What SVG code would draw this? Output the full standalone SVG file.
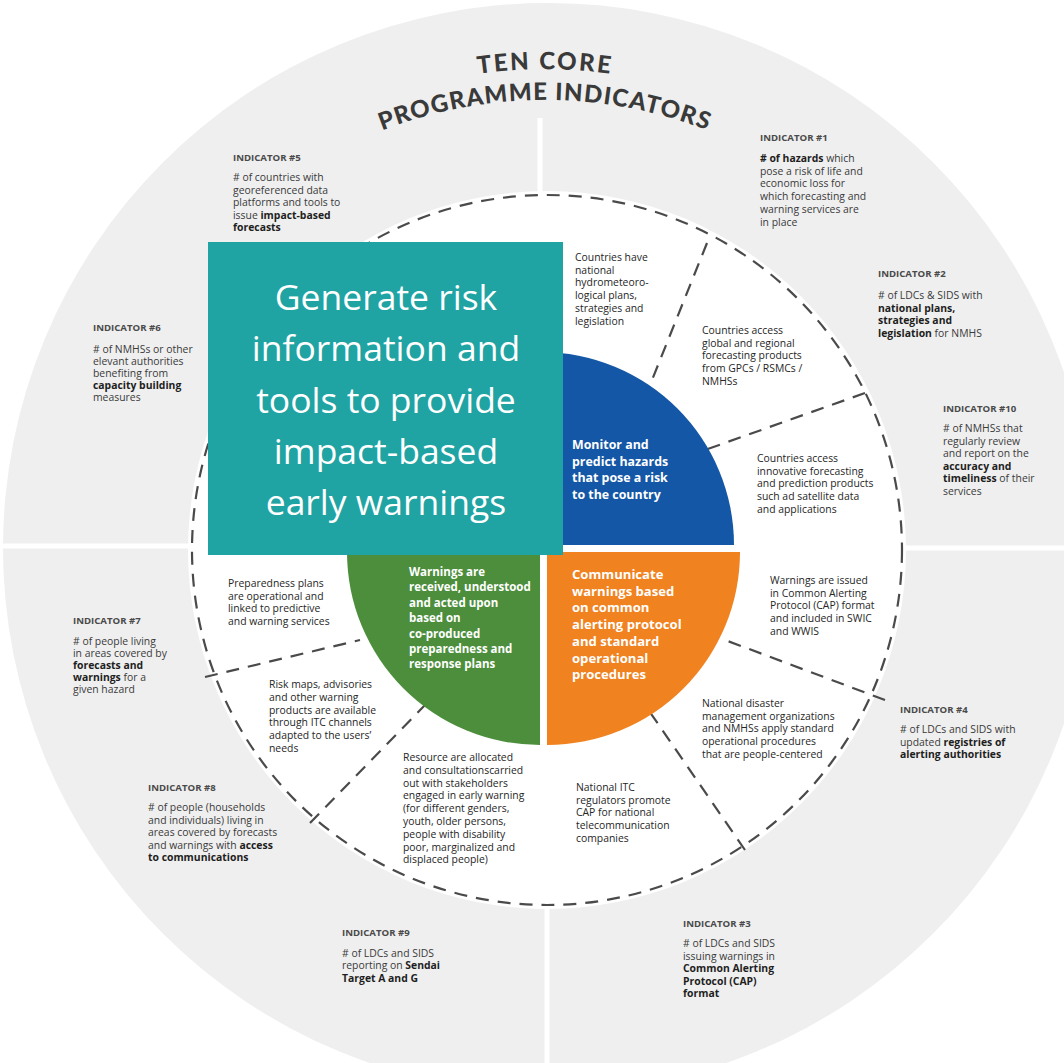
<svg xmlns="http://www.w3.org/2000/svg" width="1064" height="1063" viewBox="0 0 1064 1063">
<defs>
<style>
.t{font-family:"Open Sans","Noto Sans","Liberation Sans",sans-serif;}
.sm{font-size:10.4px;fill:#3a3a3a;}
.rg{font-size:10.4px;fill:#262626;}
.hd{font-size:9.6px;font-weight:700;fill:#4a4a4a;}
.b{font-weight:700;fill:#1e1e1e;}
.wh{fill:#ffffff;font-weight:700;}
.dash{fill:none;stroke:#4a4a4a;stroke-width:2.2;stroke-dasharray:13 9;}
.sep{stroke:#ffffff;stroke-width:5;}
.title{font-family:Lato,"Open Sans",sans-serif;font-weight:900;font-size:24px;fill:#3a3a3a;}
</style>
<path id="arcTen" d="M128,309.5 A482,482 0 0 1 962,309.5"/>
<path id="arcProg" d="M155,324.5 A451,451 0 0 1 935,324.5"/>
</defs>
<rect width="1064" height="1063" fill="#ffffff"/>
<g id="background">
<circle cx="548" cy="548" r="545" fill="#efefef"/>
<line class="sep" x1="540" y1="118" x2="540" y2="200"/>
<line class="sep" x1="547" y1="900" x2="547" y2="1063"/>
<line class="sep" x1="0" y1="546" x2="195" y2="546"/>
<line class="sep" x1="900" y1="548" x2="1064" y2="548"/>
<circle cx="547" cy="550" r="359" fill="#ffffff"/>
</g>
<g id="title">
<text class="title" letter-spacing="2.2"><textPath href="#arcTen" startOffset="50%" text-anchor="middle">TEN CORE</textPath></text>
<text class="title" letter-spacing="1.2"><textPath href="#arcProg" startOffset="50%" text-anchor="middle">PROGRAMME INDICATORS</textPath></text>
</g>
<g id="connectors">
<circle class="dash" cx="547" cy="550" r="355"/>
<line class="dash" x1="707" y1="243" x2="650" y2="385"/>
<line class="dash" x1="865" y1="393" x2="705" y2="450"/>
<line class="dash" x1="885" y1="700" x2="725" y2="640"/>
<line class="dash" x1="745" y1="850" x2="645" y2="705"/>
<line class="dash" x1="310" y1="823" x2="425" y2="705"/>
<line class="dash" x1="205" y1="677" x2="360" y2="640"/>
</g>
<g id="core-blue">
<path d="M541,545 L541,352 A193,193 0 0 1 734,545 Z" fill="#1457a6"/>
<text class="t wh" font-size="12.4" x="572" y="449">Monitor and<tspan x="572" dy="16.7">predict hazards</tspan><tspan x="572" dy="16.7">that pose a risk</tspan><tspan x="572" dy="16.7">to the country</tspan></text>
</g>
<g id="core-orange">
<path d="M547,552 L740,552 A193,193 0 0 1 547,745 Z" fill="#f0821f"/>
<text class="t wh" font-size="13.1" x="572" y="579">Communicate<tspan x="572" dy="16.7">warnings based</tspan><tspan x="572" dy="16.7">on common</tspan><tspan x="572" dy="16.7">alerting protocol</tspan><tspan x="572" dy="16.7">and standard</tspan><tspan x="572" dy="16.7">operational</tspan><tspan x="572" dy="16.7">procedures</tspan></text>
</g>
<g id="core-green">
<path d="M540,552 L540,745 A193,193 0 0 1 347,552 Z" fill="#4c8e3c"/>
<text class="t wh" font-size="11.5" x="409" y="576">Warnings are<tspan x="409" dy="15.4">received, understood</tspan><tspan x="409" dy="15.4">and acted upon</tspan><tspan x="409" dy="15.4">based on</tspan><tspan x="409" dy="15.4">co-produced</tspan><tspan x="409" dy="15.4">preparedness and</tspan><tspan x="409" dy="15.4">response plans</tspan></text>
</g>
<g id="sector-national-plans">
<text class="t rg" x="575" y="261">Countries have<tspan x="575" dy="12.7">national</tspan><tspan x="575" dy="12.7">hydrometeoro-</tspan><tspan x="575" dy="12.7">logical plans,</tspan><tspan x="575" dy="12.7">strategies and</tspan><tspan x="575" dy="12.7">legislation</tspan></text>
</g>
<g id="sector-global-products">
<text class="t rg" x="702" y="334">Countries access<tspan x="702" dy="12.7">global and regional</tspan><tspan x="702" dy="12.7">forecasting products</tspan><tspan x="702" dy="12.7">from GPCs / RSMCs /</tspan><tspan x="702" dy="12.7">NMHSs</tspan></text>
</g>
<g id="sector-innovative">
<text class="t rg" x="757" y="462">Countries access<tspan x="757" dy="12.7">innovative forecasting</tspan><tspan x="757" dy="12.7">and prediction products</tspan><tspan x="757" dy="12.7">such ad satellite data</tspan><tspan x="757" dy="12.7">and applications</tspan></text>
</g>
<g id="sector-cap-issued">
<text class="t rg" x="770" y="584">Warnings are issued<tspan x="770" dy="12.7">in Common Alerting</tspan><tspan x="770" dy="12.7">Protocol (CAP) format</tspan><tspan x="770" dy="12.7">and included in SWIC</tspan><tspan x="770" dy="12.7">and WWIS</tspan></text>
</g>
<g id="sector-sop">
<text class="t rg" x="702" y="707">National disaster<tspan x="702" dy="12.7">management organizations</tspan><tspan x="702" dy="12.7">and NMHSs apply standard</tspan><tspan x="702" dy="12.7">operational procedures</tspan><tspan x="702" dy="12.7">that are people-centered</tspan></text>
</g>
<g id="sector-itc">
<text class="t rg" x="576" y="791">National ITC<tspan x="576" dy="12.7">regulators promote</tspan><tspan x="576" dy="12.7">CAP for national</tspan><tspan x="576" dy="12.7">telecommunication</tspan><tspan x="576" dy="12.7">companies</tspan></text>
</g>
<g id="sector-resources">
<text class="t rg" x="403" y="761">Resource are allocated<tspan x="403" dy="12.8">and consultationscarried</tspan><tspan x="403" dy="12.8">out with stakeholders</tspan><tspan x="403" dy="12.8">engaged in early warning</tspan><tspan x="403" dy="12.8">(for different genders,</tspan><tspan x="403" dy="12.8">youth, older persons,</tspan><tspan x="403" dy="12.8">people with disability</tspan><tspan x="403" dy="12.8">poor, marginalized and</tspan><tspan x="403" dy="12.8">displaced people)</tspan></text>
</g>
<g id="sector-risk-maps">
<text class="t rg" x="269" y="688">Risk maps, advisories<tspan x="269" dy="12.8">and other warning</tspan><tspan x="269" dy="12.8">products are available</tspan><tspan x="269" dy="12.8">through ITC channels</tspan><tspan x="269" dy="12.8">adapted to the users’</tspan><tspan x="269" dy="12.8">needs</tspan></text>
</g>
<g id="sector-preparedness">
<text class="t rg" x="228" y="587">Preparedness plans<tspan x="228" dy="12.7">are operational and</tspan><tspan x="228" dy="12.7">linked to predictive</tspan><tspan x="228" dy="12.7">and warning services</tspan></text>
</g>
<g id="indicator-1">
<text class="t hd" x="760" y="141">INDICATOR #1</text>
<text class="t sm" x="760" y="162"><tspan class="b"># of hazards</tspan> which<tspan x="760" dy="12.7">pose a risk of life and</tspan><tspan x="760" dy="12.7">economic loss for</tspan><tspan x="760" dy="12.7">which forecasting and</tspan><tspan x="760" dy="12.7">warning services are</tspan><tspan x="760" dy="12.7">in place</tspan></text>
</g>
<g id="indicator-2">
<text class="t hd" x="878" y="277">INDICATOR #2</text>
<text class="t sm" x="878" y="299"># of LDCs &amp; SIDS with<tspan x="878" dy="12.7" class="b">national plans,</tspan><tspan x="878" dy="12.7" class="b">strategies and</tspan><tspan x="878" dy="12.7"><tspan class="b">legislation</tspan> for NMHS</tspan></text>
</g>
<g id="indicator-10">
<text class="t hd" x="943" y="412">INDICATOR #10</text>
<text class="t sm" x="943" y="432"># of NMHSs that<tspan x="943" dy="12.5">regularly review</tspan><tspan x="943" dy="12.5">and report on the</tspan><tspan x="943" dy="12.5" class="b">accuracy and</tspan><tspan x="943" dy="12.5"><tspan class="b">timeliness</tspan> of their</tspan><tspan x="943" dy="12.5">services</tspan></text>
</g>
<g id="indicator-4">
<text class="t hd" x="900" y="713">INDICATOR #4</text>
<text class="t sm" x="900" y="733"># of LDCs and SIDS with<tspan x="900" dy="12.6">updated <tspan class="b">registries of</tspan></tspan><tspan x="900" dy="12.6" class="b">alerting authorities</tspan></text>
</g>
<g id="indicator-3">
<text class="t hd" x="683" y="927">INDICATOR #3</text>
<text class="t sm" x="683" y="947"># of LDCs and SIDS<tspan x="683" dy="12.6">issuing warnings in</tspan><tspan x="683" dy="12.6" class="b">Common Alerting</tspan><tspan x="683" dy="12.6" class="b">Protocol (CAP)</tspan><tspan x="683" dy="12.6" class="b">format</tspan></text>
</g>
<g id="indicator-9">
<text class="t hd" x="342" y="936">INDICATOR #9</text>
<text class="t sm" x="342" y="957"># of LDCs and SIDS<tspan x="342" dy="12.3">reporting on <tspan class="b">Sendai</tspan></tspan><tspan x="342" dy="12.3" class="b">Target A and G</tspan></text>
</g>
<g id="indicator-8">
<text class="t hd" x="148" y="791">INDICATOR #8</text>
<text class="t sm" x="148" y="811"># of people (households<tspan x="148" dy="12.5">and individuals) living in</tspan><tspan x="148" dy="12.5">areas covered by forecasts</tspan><tspan x="148" dy="12.5">and warnings with <tspan class="b">access</tspan></tspan><tspan x="148" dy="12.5" class="b">to communications</tspan></text>
</g>
<g id="indicator-7">
<text class="t hd" x="73" y="624">INDICATOR #7</text>
<text class="t sm" x="73" y="645"># of people living<tspan x="73" dy="12.1">in areas covered by</tspan><tspan x="73" dy="12.1" class="b">forecasts and</tspan><tspan x="73" dy="12.1"><tspan class="b">warnings</tspan> for a</tspan><tspan x="73" dy="12.1">given hazard</tspan></text>
</g>
<g id="indicator-6">
<text class="t hd" x="93" y="331">INDICATOR #6</text>
<text class="t sm" x="93" y="353"># of NMHSs or other<tspan x="93" dy="12.1">elevant authorities</tspan><tspan x="93" dy="12.1">benefiting from</tspan><tspan x="93" dy="12.1" class="b">capacity building</tspan><tspan x="93" dy="12.1">measures</tspan></text>
</g>
<g id="indicator-5">
<text class="t hd" x="233" y="161">INDICATOR #5</text>
<text class="t sm" x="233" y="181"># of countries with<tspan x="233" dy="12.6">georeferenced data</tspan><tspan x="233" dy="12.6">platforms and tools to</tspan><tspan x="233" dy="12.6">issue <tspan class="b">impact-based</tspan></tspan><tspan x="233" dy="12.6" class="b">forecasts</tspan></text>
</g>
<g id="focus-box">
<rect x="208" y="242" width="355" height="313" fill="#1fa3a3"/>
<text class="t" font-size="35.5" fill="#ffffff" text-anchor="middle" x="386" y="310">Generate risk<tspan x="386" dy="51.3">information and</tspan><tspan x="386" dy="51.3">tools to provide</tspan><tspan x="386" dy="51.3">impact-based</tspan><tspan x="386" dy="51.3">early warnings</tspan></text>
</g>
</svg>
